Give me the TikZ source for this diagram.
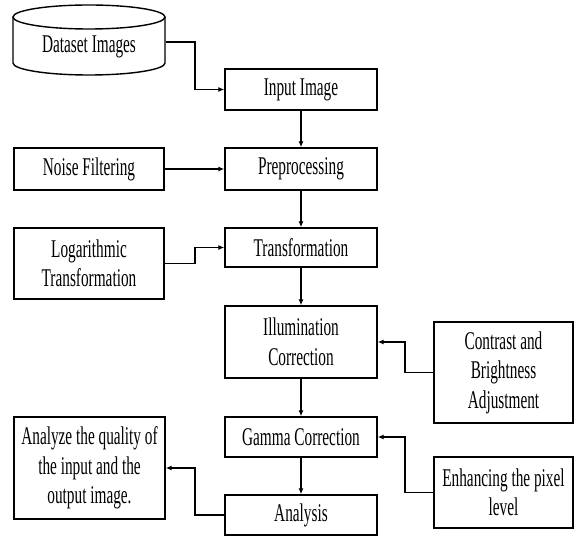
\documentclass[tikz,border=0pt]{standalone}
\usepackage{fontspec}
\newfontfamily\condfont{Liberation Serif}[FakeStretch=0.6]
\usetikzlibrary{arrows.meta}
\begin{document}
\begin{tikzpicture}[x=1pt,y=-1pt,
  box/.style={draw=black, line width=1.4pt, fill=white, align=center, inner sep=0pt,
    font=\condfont\fontsize{25.5}{29.5}\selectfont},
  arr/.style={line width=1.3pt, -{Latex[length=6pt,width=5pt]}},
  lnk/.style={line width=1.3pt}]
\useasboundingbox (0,0) rectangle (574,537);
% cylinder
\draw[line width=1.4pt, fill=white] (13,17) -- (13,63) arc[start angle=180,end angle=360,x radius=76pt,y radius=12pt] -- (165,17);
\draw[line width=1.4pt, fill=white] (89,17) ellipse [x radius=76pt, y radius=12pt];
\node[box, draw=none, fill=none, minimum width=152pt, minimum height=30pt] (ds) at (89,47) {Dataset Images};

\node[box, minimum width=152pt, minimum height=41pt] (input) at (301,89.5) {Input Image};
\node[box, minimum width=152pt, minimum height=42pt] (prep) at (301,169) {Preprocessing};
\node[box, minimum width=152pt, minimum height=39pt] (trans) at (301,247.5) {Transformation};
\node[box, minimum width=152pt, minimum height=72pt] (illum) at (301,342) {Illumination\\Correction};
\node[box, minimum width=152pt, minimum height=40pt] (gamma) at (301,437) {Gamma Correction};
\node[box, minimum width=152pt, minimum height=40pt] (analysis) at (301,515) {Analysis};

\node[box, minimum width=150pt, minimum height=42pt] (noise) at (89,169) {Noise Filtering};
\node[box, minimum width=150pt, minimum height=71pt] (log) at (89,263.5) {Logarithmic\\Transformation};
\node[box, minimum width=151pt, minimum height=102pt] (analyze) at (89.5,468) {Analyze the quality of\\the input and the\\output image.};

\node[box, minimum width=139pt, minimum height=101pt] (contrast) at (503.5,372.5) {Contrast and\\Brightness\\Adjustment};
\node[box, minimum width=139pt, minimum height=71pt] (enhance) at (503.5,492.5) {Enhancing the pixel\\level};

% connectors
\draw[arr] ([yshift=5pt]ds.east) -| (195,89.5) -- (input.west);
\draw[arr] (input.south) -- (prep.north);
\draw[arr] (noise.east) -- (prep.west);
\draw[arr] (prep.south) -- (trans.north);
\draw[arr] (log.east) -| (195,247.5) -- (trans.west);
\draw[arr] (trans.south) -- (illum.north);
\draw[arr] (contrast.west) -| (405,342) -- (illum.east);
\draw[arr] (illum.south) -- (gamma.north);
\draw[arr] (enhance.west) -| (405,437) -- (gamma.east);
\draw[arr] (gamma.south) -- (analysis.north);
\draw[arr] (analysis.west) -| (195,468) -- (analyze.east);
\end{tikzpicture}
\end{document}
